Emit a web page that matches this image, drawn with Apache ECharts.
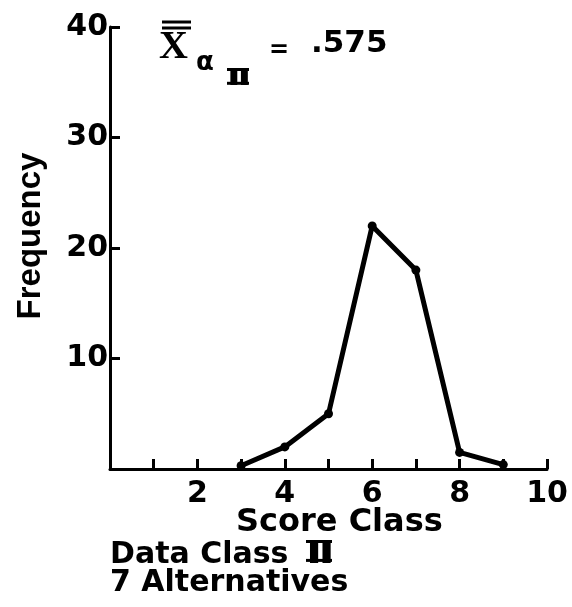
<!DOCTYPE html>
<html>
<head>
<meta charset="utf-8">
<script src="https://cdn.jsdelivr.net/npm/echarts@6/dist/echarts.min.js"></script>
<style>
  html, body { margin: 0; padding: 0; background: #fff; }
  #chart { width: 572px; height: 607px; }
</style>
</head>
<body>
<div id="chart"></div>
<script>
// Frequency distribution of score classes (data class II, 7 alternatives)
const scoreClass = [3, 4, 5, 6, 7, 8, 9];
const frequency = [0.3, 2, 5, 22, 18, 1.5, 0.4];

const xTickLabels = [2, 4, 6, 8, 10];
const yTickLabels = [10, 20, 30, 40];

const meanLabel = '.575';
const xTitle = 'Score Class';
const yTitle = 'Frequency';
const captionLine1 = 'Data Class';
const romanTwo = 'Ⅱ';
const captionLine2 = '7 Alternatives';

const ink = '#000';
const sans = '"DejaVu Sans", sans-serif';

// Roman numeral two: stretched glyph closed by bars along its cap top and baseline
function romanNumeral(x, top, fontSize, scaleX, width) {
  const capH = fontSize * 0.73;
  return [
    { type: 'text', x: x, y: top, scaleX: scaleX,
      style: { x: 0, y: 0, text: romanTwo, fill: ink, font: 'bold ' + fontSize + 'px ' + sans } },
    { type: 'line', shape: { x1: x, y1: top + 1.5, x2: x + width, y2: top + 1.5 }, style: { stroke: ink, lineWidth: 3 } },
    { type: 'line', shape: { x1: x, y1: top + capH - 1.5, x2: x + width, y2: top + capH - 1.5 }, style: { stroke: ink, lineWidth: 3 } }
  ];
}

const chart = echarts.init(document.getElementById('chart'), null, { renderer: 'canvas' });

chart.setOption({
  backgroundColor: '#fff',
  animation: false,
  grid: { left: 110, right: 25, top: 27, bottom: 138, containLabel: false },
  xAxis: {
    type: 'value',
    min: 0,
    max: 10,
    interval: 1,
    axisLine: { show: true, onZero: false, lineStyle: { color: ink, width: 3 } },
    axisTick: { show: true, inside: true, length: 10, lineStyle: { color: ink, width: 3 } },
    axisLabel: {
      margin: 10,
      color: ink,
      fontFamily: sans,
      fontWeight: 'bold',
      fontSize: 30,
      formatter: v => (xTickLabels.includes(v) ? String(v) : '')
    },
    splitLine: { show: false }
  },
  yAxis: {
    type: 'value',
    min: 0,
    max: 40,
    interval: 10,
    axisLine: { show: true, lineStyle: { color: ink, width: 3 } },
    axisTick: { show: true, inside: true, length: 10, lineStyle: { color: ink, width: 3 } },
    axisLabel: {
      margin: 2,
      color: ink,
      fontFamily: sans,
      fontWeight: 'bold',
      fontSize: 30,
      formatter: v => (yTickLabels.includes(v) ? String(v) : '')
    },
    splitLine: { show: false }
  },
  series: [{
    type: 'line',
    data: scoreClass.map((s, i) => [s, frequency[i]]),
    symbol: 'circle',
    symbolSize: 9,
    itemStyle: { color: ink },
    lineStyle: { color: ink, width: 5 },
    z: 5
  }],
  graphic: [
    // mean annotation: X with double bar, subscripts alpha and roman two
    { type: 'text', left: 159, top: 28, style: { text: 'X', fill: ink, font: 'bold 40px "Liberation Serif", serif' } },
    { type: 'line', shape: { x1: 162, y1: 22, x2: 191, y2: 22 }, style: { stroke: ink, lineWidth: 3 } },
    { type: 'line', shape: { x1: 162, y1: 28, x2: 191, y2: 28 }, style: { stroke: ink, lineWidth: 3 } },
    { type: 'text', left: 196, top: 50, style: { text: 'α', fill: ink, font: 'bold 26px ' + sans } },
    ...romanNumeral(227, 68, 23, 1.6, 22),
    { type: 'text', left: 269, top: 39, style: { text: '=', fill: ink, font: 'bold 24px ' + sans } },
    { type: 'text', left: 311, top: 28, style: { text: meanLabel, fill: ink, font: 'bold 31px ' + sans } },
    // axis titles
    { type: 'text', left: 236, top: 507, style: { text: xTitle, fill: ink, font: 'bold 32px ' + sans } },
    {
      type: 'text', x: 31, y: 236, rotation: Math.PI / 2,
      style: { text: yTitle, fill: ink, font: 'bold 33px "Liberation Sans", sans-serif', align: 'center', verticalAlign: 'middle' }
    },
    // caption below the plot
    { type: 'text', left: 110, top: 540, style: { text: captionLine1, fill: ink, font: 'bold 30px ' + sans } },
    ...romanNumeral(306, 540, 30, 1.45, 26),
    { type: 'text', left: 110, top: 568, style: { text: captionLine2, fill: ink, font: 'bold 30px ' + sans } }
  ]
});
</script>
</body>
</html>
